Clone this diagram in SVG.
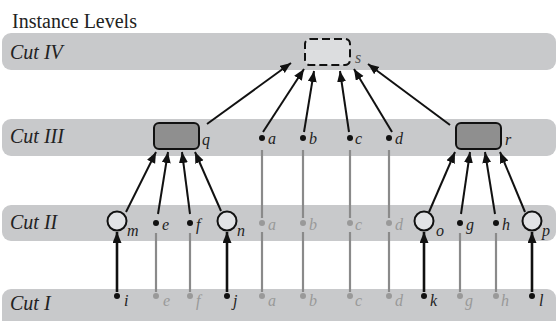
<svg xmlns="http://www.w3.org/2000/svg" width="557" height="321" viewBox="0 0 557 321">
<style>
text{font-family:"Times New Roman",Times,Tinos,"Liberation Serif","Nimbus Roman","DejaVu Serif",serif}
.band{fill:#c8c9cb}
.hdr{font-style:italic;font-size:20px;fill:#222}
.ttl{font-size:20px;fill:#222}
.lb{font-style:italic;font-size:16px;fill:#222}
.lg{font-style:italic;font-size:16px;fill:#999}
.dot{fill:#111}
.gdot{fill:#999}
.arr{stroke:#111;stroke-width:2;fill:none;marker-end:url(#ah)}
.arr2{stroke:#111;stroke-width:2.6;fill:none;marker-end:url(#ah)}
.gl{stroke:#8a8a8a;stroke-width:2.2;fill:none}
.box{fill:#8f8f8f;stroke:#111;stroke-width:2}
.circ{fill:#e2e3e5;stroke:#111;stroke-width:2}
</style>
<defs>
<marker id="ah" markerUnits="userSpaceOnUse" markerWidth="12" markerHeight="10" refX="11" refY="4.5" orient="auto">
<path d="M0,0 L11,4.5 L0,9 z" fill="#111"/>
</marker>
</defs>
<text class="ttl" x="12" y="28">Instance Levels</text>
<g id="bands">
<rect class="band" x="2" y="33" width="554" height="37" rx="9"/>
<rect class="band" x="2" y="119" width="554" height="37" rx="9"/>
<rect class="band" x="2" y="205" width="554" height="36" rx="9"/>
<rect class="band" x="2" y="289" width="554" height="40" rx="9"/>
<text class="hdr" x="10" y="59">Cut IV</text>
<text class="hdr" x="10" y="143">Cut III</text>
<text class="hdr" x="10" y="229">Cut II</text>
<text class="hdr" x="10" y="310">Cut I</text>
</g>
<g id="connectors">
<line class="arr" x1="207" y1="124" x2="291" y2="63"/>
<line class="arr" x1="263" y1="132" x2="304" y2="69"/>
<line class="arr" x1="304" y1="132" x2="314" y2="71"/>
<line class="arr" x1="349" y1="132" x2="340" y2="71"/>
<line class="arr" x1="392" y1="132" x2="354" y2="69"/>
<line class="arr" x1="450" y1="125" x2="368" y2="64"/>
<line class="arr" x1="126" y1="212" x2="156" y2="152"/>
<line class="arr" x1="158" y1="214" x2="168" y2="152"/>
<line class="arr" x1="190" y1="214" x2="182" y2="152"/>
<line class="arr" x1="221" y1="211" x2="195" y2="152"/>
<line class="arr" x1="429" y1="212" x2="455" y2="152"/>
<line class="arr" x1="461" y1="214" x2="470" y2="152"/>
<line class="arr" x1="495" y1="214" x2="485" y2="152"/>
<line class="arr" x1="525" y1="212" x2="500" y2="152"/>
<line class="arr2" x1="117" y1="292" x2="117" y2="232"/>
<line class="arr2" x1="227" y1="292" x2="227" y2="232"/>
<line class="arr2" x1="424" y1="292" x2="424" y2="232"/>
<line class="arr2" x1="532" y1="292" x2="532" y2="232"/>
<line class="gl" x1="262" y1="150" x2="262" y2="218"/>
<line class="gl" x1="303" y1="150" x2="303" y2="218"/>
<line class="gl" x1="350" y1="150" x2="350" y2="218"/>
<line class="gl" x1="389" y1="150" x2="389" y2="218"/>
<line class="gl" x1="262" y1="232" x2="262" y2="292"/>
<line class="gl" x1="303" y1="232" x2="303" y2="292"/>
<line class="gl" x1="350" y1="232" x2="350" y2="292"/>
<line class="gl" x1="389" y1="232" x2="389" y2="292"/>
<line class="gl" x1="156" y1="233" x2="156" y2="292"/>
<line class="gl" x1="190" y1="233" x2="190" y2="292"/>
<line class="gl" x1="460" y1="233" x2="460" y2="292"/>
<line class="gl" x1="496" y1="233" x2="496" y2="292"/>
</g>
<g id="node-s">
<rect x="305" y="39" width="45" height="26" rx="5" fill="#dcdddf" stroke="#111" stroke-width="2" stroke-dasharray="8,4"/>
<text class="lb" x="355" y="63" style="fill:#555">s</text>
</g>
<g id="node-q">
<rect class="box" x="154" y="123" width="45" height="26" rx="5"/>
<text class="lb" x="202" y="145">q</text>
</g>
<g id="node-r">
<rect class="box" x="456" y="123" width="45" height="26" rx="5"/>
<text class="lb" x="505" y="145">r</text>
</g>
<g id="cut3-dots">
<circle class="dot" cx="262" cy="138" r="3"/><text class="lb" x="268" y="144">a</text>
<circle class="dot" cx="303" cy="138" r="3"/><text class="lb" x="309" y="144">b</text>
<circle class="dot" cx="350" cy="138" r="3"/><text class="lb" x="355" y="144">c</text>
<circle class="dot" cx="389" cy="138" r="3"/><text class="lb" x="395" y="144">d</text>
</g>
<g id="cut2-nodes">
<circle class="circ" cx="117" cy="221" r="9.5"/><text class="lb" x="127" y="236">m</text>
<circle class="dot" cx="156" cy="223" r="3"/><text class="lb" x="162" y="230">e</text>
<circle class="dot" cx="190" cy="223" r="3"/><text class="lb" x="196" y="230">f</text>
<circle class="circ" cx="227" cy="221" r="9.5"/><text class="lb" x="237" y="236">n</text>
<circle class="gdot" cx="262" cy="223" r="3"/><text class="lg" x="268" y="230">a</text>
<circle class="gdot" cx="303" cy="223" r="3"/><text class="lg" x="309" y="230">b</text>
<circle class="gdot" cx="350" cy="223" r="3"/><text class="lg" x="355" y="230">c</text>
<circle class="gdot" cx="389" cy="223" r="3"/><text class="lg" x="395" y="230">d</text>
<circle class="circ" cx="424" cy="221" r="9.5"/><text class="lb" x="436" y="236">o</text>
<circle class="dot" cx="460" cy="223" r="3"/><text class="lb" x="466" y="230">g</text>
<circle class="dot" cx="496" cy="223" r="3"/><text class="lb" x="502" y="230">h</text>
<circle class="circ" cx="532" cy="221" r="9.5"/><text class="lb" x="542" y="236">p</text>
</g>
<g id="cut1-dots">
<circle class="dot" cx="117" cy="296" r="3"/><text class="lb" x="124" y="306">i</text>
<circle class="gdot" cx="156" cy="296" r="3"/><text class="lg" x="163" y="306">e</text>
<circle class="gdot" cx="190" cy="296" r="3"/><text class="lg" x="196" y="306">f</text>
<circle class="dot" cx="227" cy="296" r="3"/><text class="lb" x="233" y="306">j</text>
<circle class="gdot" cx="262" cy="296" r="3"/><text class="lg" x="268" y="306">a</text>
<circle class="gdot" cx="303" cy="296" r="3"/><text class="lg" x="309" y="306">b</text>
<circle class="gdot" cx="350" cy="296" r="3"/><text class="lg" x="355" y="306">c</text>
<circle class="gdot" cx="389" cy="296" r="3"/><text class="lg" x="395" y="306">d</text>
<circle class="dot" cx="424" cy="296" r="3"/><text class="lb" x="430" y="306">k</text>
<circle class="gdot" cx="460" cy="296" r="3"/><text class="lg" x="465" y="306">g</text>
<circle class="gdot" cx="496" cy="296" r="3"/><text class="lg" x="501" y="306">h</text>
<circle class="dot" cx="532" cy="296" r="3"/><text class="lb" x="539" y="306">l</text>
</g>
</svg>
